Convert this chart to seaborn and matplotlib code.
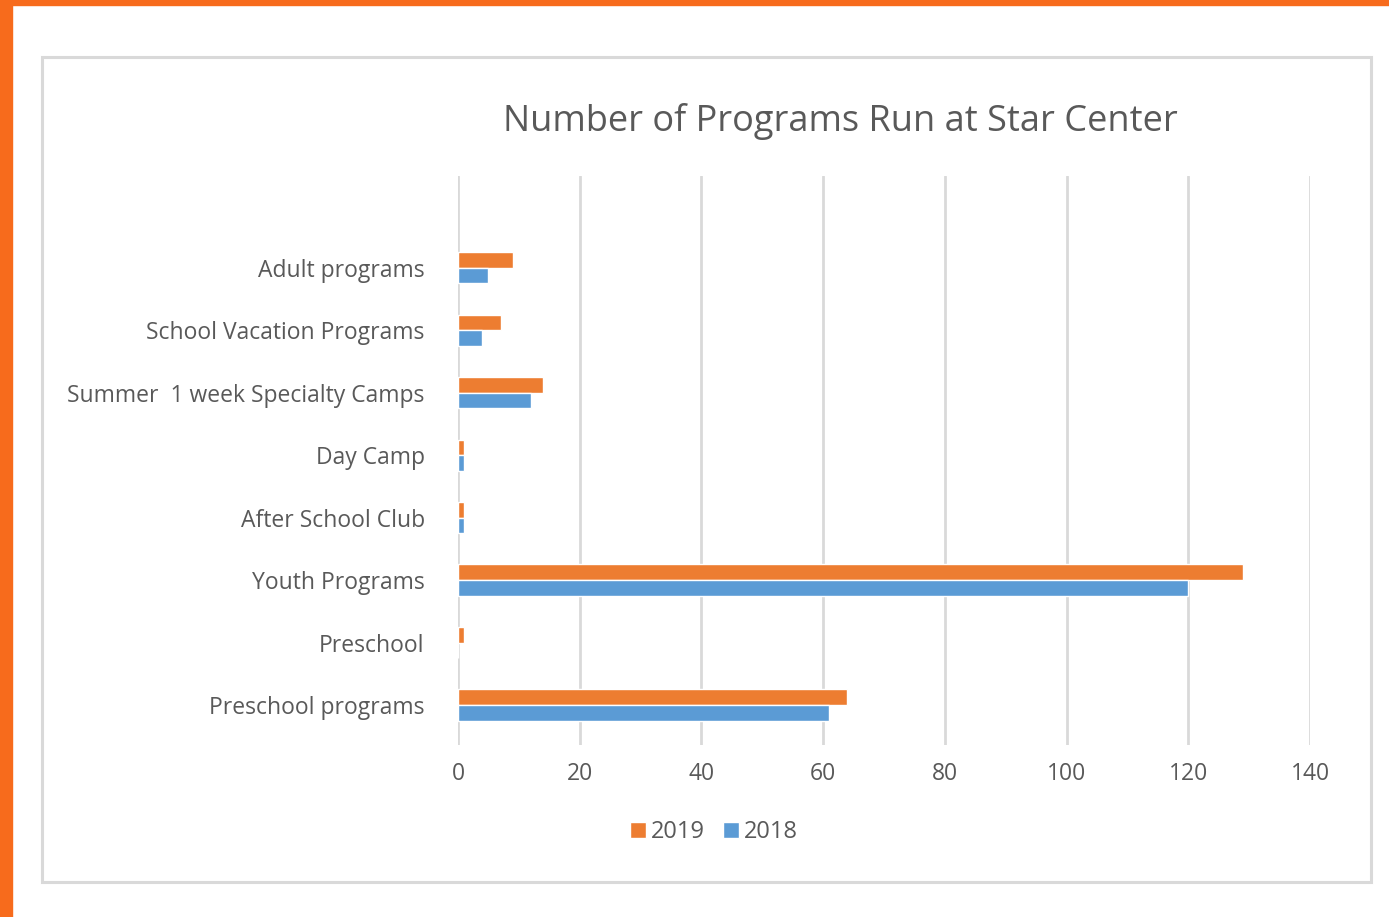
"""
Number of Programs Run at Star Center - horizontal grouped bar chart.
"""

import pandas as pd
import matplotlib.pyplot as plt
import matplotlib.patches as mpatches
import seaborn as sns

# ── Data ─────────────────────────────────────────────────────────────────────
categories = [
    "Adult programs",
    "School Vacation Programs",
    "Summer  1 week Specialty Camps",
    "Day Camp",
    "After School Club",
    "Youth Programs",
    "Preschool",
    "Preschool programs",
]
values_2019 = [9, 7, 14, 1, 1, 129, 1, 64]
values_2018 = [5, 4, 12, 1, 1, 120, 0, 61]
years = ["2019", "2018"]
x_ticks = [0, 20, 40, 60, 80, 100, 120, 140]

# ── Style ────────────────────────────────────────────────────────────────────
C_2019 = "#ED7D31"
C_2018 = "#5B9BD5"
C_TEXT = "#595959"
C_GRID = "#D9D9D9"
C_BORDER = "#F76B1C"

sns.set_theme(style="white")
plt.rcParams["font.family"] = ["Open Sans", "DejaVu Sans"]

df = pd.DataFrame({
    "category": categories * 2,
    "value": values_2019 + values_2018,
    "year": [years[0]] * len(categories) + [years[1]] * len(categories),
})

fig = plt.figure(figsize=(13.89, 9.17), dpi=100)
fig.patch.set_facecolor("white")

# orange page border (left + top) and light grey chart frame
fig.patches.append(mpatches.Rectangle((0, 0), 12 / 1389, 1, transform=fig.transFigure,
                                      color=C_BORDER, zorder=0))
fig.patches.append(mpatches.Rectangle((0, 1 - 5 / 917), 1, 5 / 917, transform=fig.transFigure,
                                      color=C_BORDER, zorder=0))
fig.patches.append(mpatches.Rectangle((42 / 1389, 1 - 882 / 917), (1371 - 42) / 1389,
                                      (882 - 57) / 917, transform=fig.transFigure,
                                      fill=False, edgecolor=C_GRID, linewidth=2.2, zorder=0))

ax = fig.add_axes([458 / 1389, 172 / 917, 852 / 1389, 569 / 917])
ax.set_facecolor("none")

sns.barplot(
    data=df, x="value", y="category", hue="year", hue_order=years,
    palette=[C_2019, C_2018], orient="h", width=0.5, gap=0,
    saturation=1, ax=ax, zorder=3,
)

ax.set_xlim(0, 140)
ax.set_xticks(x_ticks)
ax.set_ylim(7.64, -1.47)
ax.xaxis.grid(True, color=C_GRID, linewidth=2)
ax.yaxis.grid(False)
ax.set_axisbelow(True)
for s in ax.spines.values():
    s.set_visible(False)
ax.set_xlabel("")
ax.set_ylabel("")
ax.tick_params(axis="x", length=0, pad=12.5, labelsize=16.5, labelcolor=C_TEXT)
ax.tick_params(axis="y", length=0, pad=24, labelsize=16.5, labelcolor=C_TEXT)

handles, labels = ax.get_legend_handles_labels()
ax.get_legend().remove()
fig.legend(
    handles, labels, loc="center", bbox_to_anchor=(714 / 1389, 1 - 832 / 917),
    ncol=2, frameon=False, fontsize=17, labelcolor=C_TEXT,
    handlelength=0.65, handleheight=0.65, handletextpad=0.2, columnspacing=0.8,
)

fig.text(840 / 1389, 1 - 121 / 917, "Number of Programs Run at Star Center",
         ha="center", va="center", fontsize=26, color=C_TEXT)

fig.savefig("out.png", dpi=100, facecolor=fig.get_facecolor())
